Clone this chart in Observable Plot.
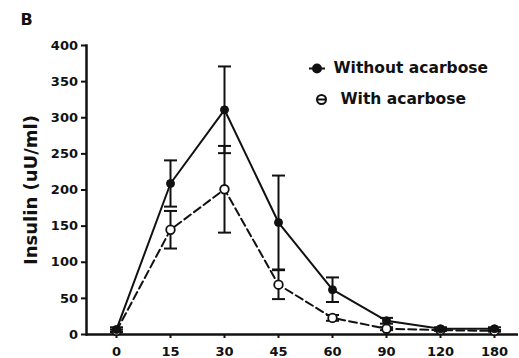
<!DOCTYPE html>
<html><head><meta charset="utf-8">
<script src="https://cdn.jsdelivr.net/npm/d3@7"></script>
<script src="https://cdn.jsdelivr.net/npm/@observablehq/plot@0.6"></script>
<style>body{margin:0;background:#fff}</style>
</head><body><div id="chart"></div>
<script>
const panelLabel = "B";
const yLabel = "Insulin (uU/ml)";
const times = ["0","15","30","45","60","90","120","180"];
const seriesNames = ["Without acarbose","With acarbose"];
const withoutMean = [7,209,311,155,62,19,8,8];
const withoutSem  = [3,32,60,65,17,4,2,2];
const withMean    = [5,145,201,69,23,8,6,5];
const withSem     = [2,26,60,20,4,2,1,1];
const yTicks = [0,50,100,150,200,250,300,350,400];

const ink = "#111";
const rows = (means, sems, s) => times.map((t,i) => ({t, v: means[i], lo: means[i]-sems[i], hi: means[i]+sems[i], s}));
const wo = rows(withoutMean, withoutSem, seriesNames[0]);
const wi = rows(withMean, withSem, seriesNames[1]);
const all = wo.concat(wi);

const cap = {draw(ctx){ ctx.moveTo(-6.5,0); ctx.lineTo(6.5,0); }};
const legSym = (half, r) => ({draw(ctx){ ctx.moveTo(-half,0); ctx.lineTo(half,0); ctx.moveTo(r,0); ctx.arc(0,0,r,0,2*Math.PI); }});

const chart = Plot.plot({
  width: 519, height: 358,
  marginLeft: 86, marginRight: 1, marginTop: 45, marginBottom: 24,
  style: {fontFamily: "DejaVu Sans", fontWeight: "bold", fontSize: "13px", color: ink, background: "#fff"},
  x: {type: "point", domain: times, range: [114, 496], padding: 0},
  y: {domain: [0, 400]},
  marks: [
    Plot.axisY({ticks: yTicks, tickSize: 5, tickPadding: 3.5, strokeWidth: 2, label: null, fontSize: 13}),
    Plot.axisX({tickSize: 4, tickPadding: 8, strokeWidth: 2, label: null, fontSize: 13}),
    Plot.frame({anchor: "left", stroke: ink, strokeWidth: 2.5}),
    Plot.ruleY([0], {stroke: ink, strokeWidth: 2.5}),
    Plot.ruleX(all, {x: "t", y1: "lo", y2: "hi", stroke: ink, strokeWidth: 2}),
    Plot.dot(all, {x: "t", y: "hi", symbol: cap, stroke: ink, strokeWidth: 2, fill: "none"}),
    Plot.dot(all, {x: "t", y: "lo", symbol: cap, stroke: ink, strokeWidth: 2, fill: "none"}),
    Plot.line(wo, {x: "t", y: "v", stroke: ink, strokeWidth: 2}),
    Plot.line(wi, {x: "t", y: "v", stroke: ink, strokeWidth: 2, strokeDasharray: "8,4"}),
    Plot.dot(wi, {x: "t", y: "v", r: 4.3, fill: "#fff", stroke: ink, strokeWidth: 1.8}),
    Plot.dot(wo, {x: "t", y: "v", r: 4, fill: ink, stroke: ink, strokeWidth: 1}),
    Plot.text([yLabel], {frameAnchor: "left", dx: -55, rotate: -90, textAnchor: "middle", lineAnchor: "middle", fontSize: 18, fontWeight: "bold", fill: ink}),
    Plot.text([panelLabel], {frameAnchor: "top-left", dx: -66, dy: -26, textAnchor: "start", lineAnchor: "middle", fontSize: 16, fontWeight: "bold", fill: ink}),
    Plot.dot([seriesNames[0]], {frameAnchor: "top-left", dx: 230.5, dy: 23, symbol: legSym(8, 4), fill: ink, stroke: ink, strokeWidth: 2}),
    Plot.dot([seriesNames[1]], {frameAnchor: "top-left", dx: 235, dy: 54, symbol: legSym(5, 4.5), fill: "#fff", stroke: ink, strokeWidth: 2}),
    Plot.text([seriesNames[0]], {frameAnchor: "top-left", dx: 247, dy: 23, textAnchor: "start", lineAnchor: "middle", fontSize: 15.5, fontWeight: "bold", fill: ink}),
    Plot.text([seriesNames[1]], {frameAnchor: "top-left", dx: 254, dy: 54, textAnchor: "start", lineAnchor: "middle", fontSize: 15.5, fontWeight: "bold", fill: ink})
  ]
});
document.getElementById("chart").appendChild(chart);
</script>
</body></html>
